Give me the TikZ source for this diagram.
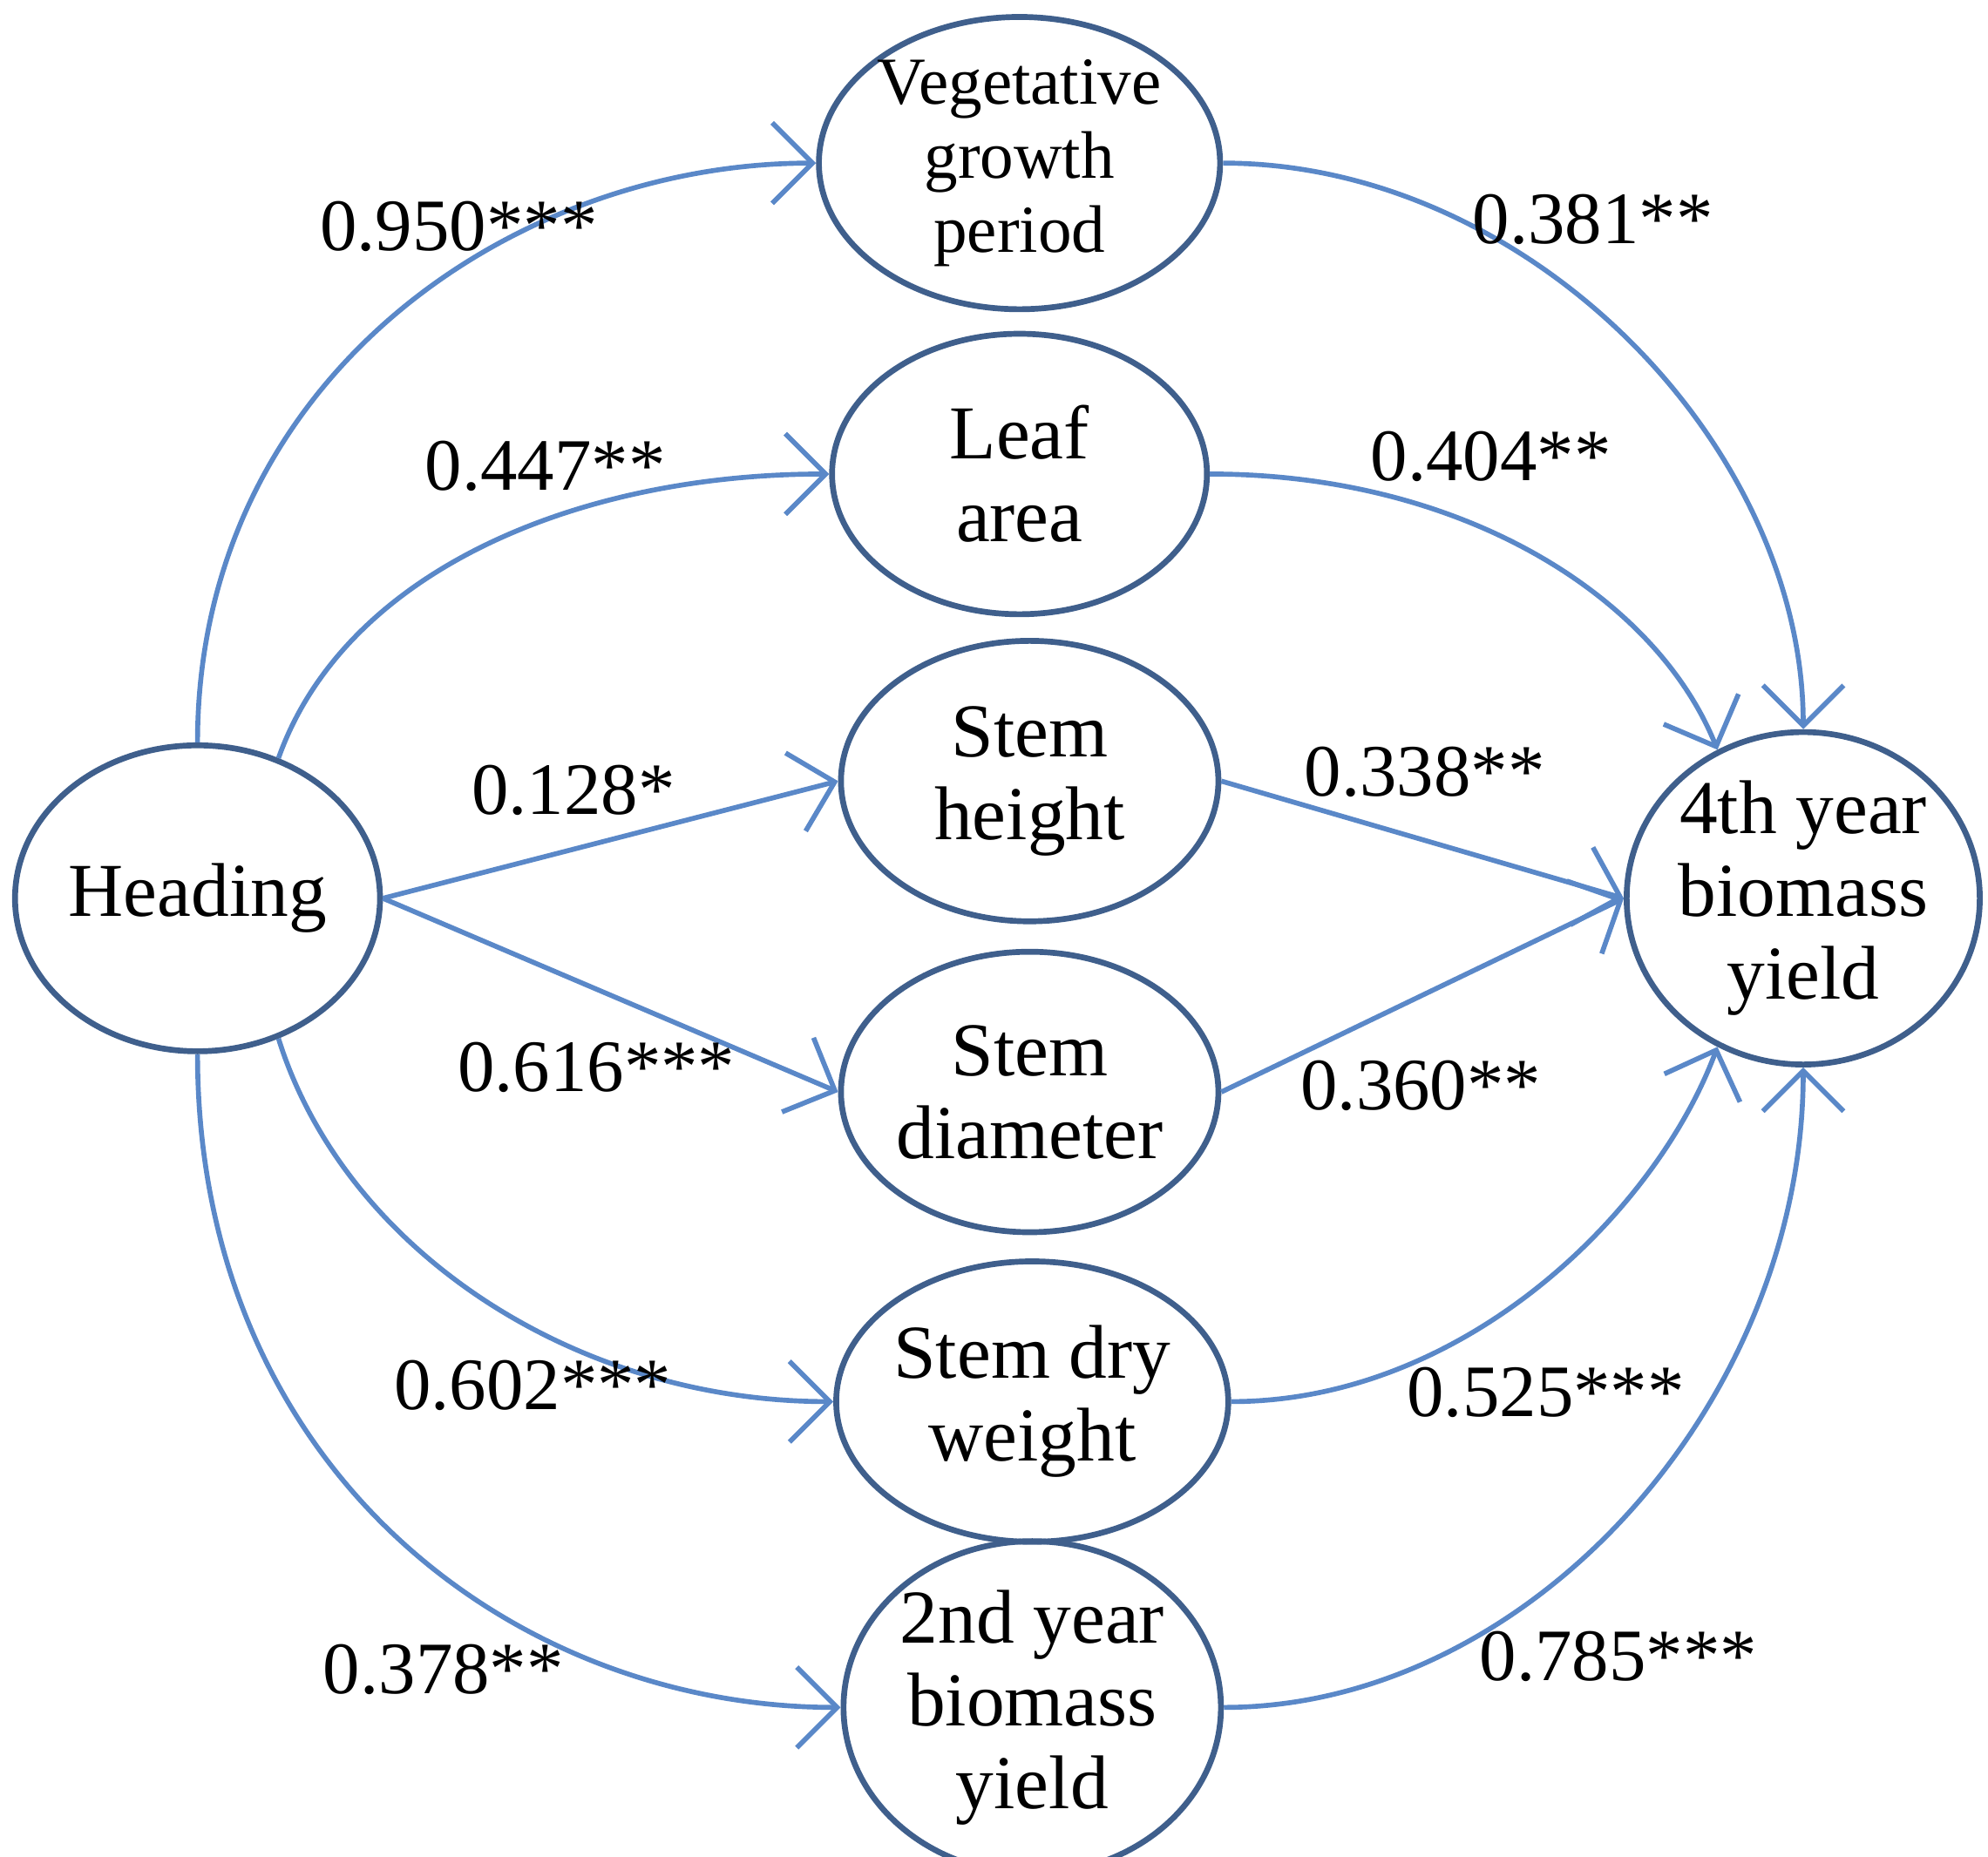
\documentclass[tikz,border=0pt]{standalone}
\usepackage{fontspec}
\setmainfont{Liberation Serif}
\usetikzlibrary{shapes.geometric,arrows.meta}
\definecolor{nodeb}{HTML}{3F5F8C}
\definecolor{arrb}{HTML}{5A88C8}
\begin{document}
\begin{tikzpicture}[x=0.01cm,y=-0.01cm,
  ell/.style={ellipse,draw=nodeb,line width=1.3pt,inner sep=0pt,align=center,font=\fontsize{17}{18.5}\selectfont},
  arr/.style={draw=arrb,line width=1.1pt,-{Straight Barb[length=9pt,width=18pt,line width=1.1pt]}},
  lab/.style={font=\fontsize{16.5}{20}\selectfont}]
\useasboundingbox (0,0) rectangle (1560,1457);
\node[ell,minimum width=2.8cm,minimum height=2.4cm] (h) at (155,705) {Heading};
\node[ell,minimum width=2.96cm,minimum height=2.2cm,font=\fontsize{15}{16.5}\selectfont] (v) at (800,128) {Vegetative\\growth\\period};
\node[ell,minimum width=2.94cm,minimum height=2.2cm] (l) at (800,372) {Leaf\\area};
\node[ell,minimum width=2.96cm,minimum height=2.2cm] (sh) at (808,613) {Stem\\height};
\node[ell,minimum width=2.96cm,minimum height=2.2cm] (sd) at (808,857) {Stem\\diameter};
\node[ell,minimum width=2.96cm,minimum height=2.2cm] (sw) at (810,1100) {Stem dry\\weight};
\node[ell,minimum width=2.96cm,minimum height=2.2cm] (s2) at (810,1340) {2nd year\\biomass\\yield};
\node[ell,minimum width=2.64cm,minimum height=2.44cm] (y4) at (1415,705) {4th year\\biomass\\yield};
\draw[arr] (h.north) .. controls (155,300) and (400,128) .. (v.west);
\draw[arr] (h.60) .. controls (270,450) and (450,372) .. (l.west);
\draw[arr] (h.east) -- (sh.west);
\draw[arr] (h.east) -- (sd.west);
\draw[arr] (h.-60) .. controls (270,980) and (450,1100) .. (sw.west);
\draw[arr] (h.south) .. controls (155,1150) and (400,1340) .. (s2.west);
\draw[arr] (v.east) .. controls (1200,128) and (1415,350) .. (y4.north);
\draw[arr] (l.east) .. controls (1150,372) and (1300,470) .. (y4.120);
\draw[arr] (sh.east) -- (y4.west);
\draw[arr] (sd.east) -- (y4.west);
\draw[arr] (sw.east) .. controls (1150,1100) and (1300,950) .. (y4.-120);
\draw[arr] (s2.east) .. controls (1200,1340) and (1415,1100) .. (y4.south);
\node[lab] (a1) at (360,178) {0.950***};
\node[lab] (a2) at (1250,172) {0.381**};
\node[lab] (a3) at (428,366) {0.447**};
\node[lab] (a4) at (1170,358) {0.404**};
\node[lab] (a5) at (450,620) {0.128*};
\node[lab] (a6) at (1118,606) {0.338**};
\node[lab] (a7) at (468,838) {0.616***};
\node[lab] (a8) at (1115,852) {0.360**};
\node[lab] (a9) at (418,1087) {0.602***};
\node[lab] (a10) at (1213,1093) {0.525***};
\node[lab] (a11) at (348,1310) {0.378**};
\node[lab] (a12) at (1270,1300) {0.785***};
\end{tikzpicture}
\end{document}
